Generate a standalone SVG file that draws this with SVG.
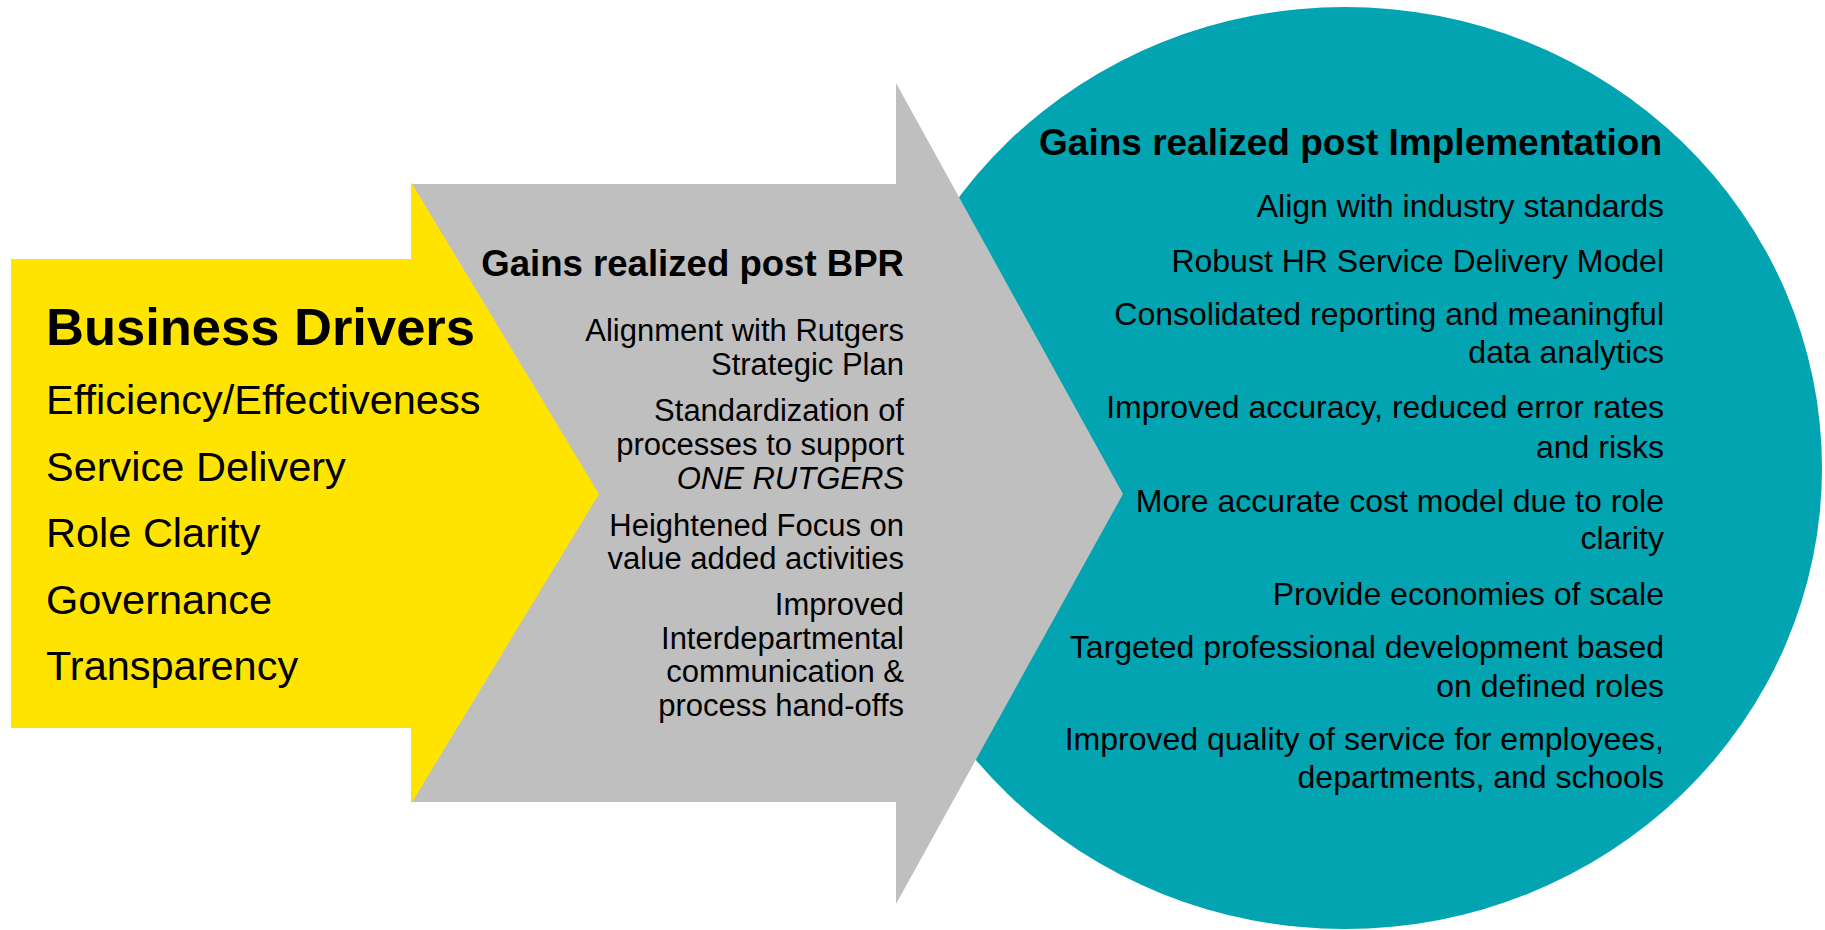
<svg xmlns="http://www.w3.org/2000/svg" width="1825" height="930" viewBox="0 0 1825 930">
<style>
.t{font-family:"Liberation Sans",Arial,sans-serif;fill:#000}
.b{font-weight:bold}
.r{text-anchor:end}
.drv{font-size:41.5px}
.g{font-size:31px}
.c{font-size:32px}
</style>
<rect width="1825" height="930" fill="#fff"/>
<g id="implementation">
<ellipse cx="1345" cy="468" rx="477" ry="461" fill="#01A4B0"/>
<text class="t b r" x="1662" y="155" font-size="37px">Gains realized post Implementation</text>
<g class="t r c">
<text x="1664" y="217">Align with industry standards</text>
<text x="1664" y="272">Robust HR Service Delivery Model</text>
<text x="1664" y="325">Consolidated reporting and meaningful<tspan x="1664" y="363">data analytics</tspan></text>
<text x="1664" y="418">Improved accuracy, reduced error rates<tspan x="1664" y="458">and risks</tspan></text>
<text x="1664" y="512">More accurate cost model due to role<tspan x="1664" y="549">clarity</tspan></text>
<text x="1664" y="605">Provide economies of scale</text>
<text x="1664" y="658">Targeted professional development based<tspan x="1664" y="697">on defined roles</tspan></text>
<text x="1664" y="750">Improved quality of service for employees,<tspan x="1664" y="788">departments, and schools</tspan></text>
</g>
</g>
<g id="bpr">
<polygon points="411,184 896,184 896,83 1123,494 896,904 896,802 411,802" fill="#BFBFBF"/>
<text class="t b r" x="904" y="276" font-size="36.6px">Gains realized post BPR</text>
<g class="t r g">
<text x="904" y="341">Alignment with Rutgers<tspan x="904" y="375">Strategic Plan</tspan></text>
<text x="904" y="421">Standardization of<tspan x="904" y="455">processes to support</tspan><tspan x="904" y="489" font-style="italic">ONE RUTGERS</tspan></text>
<text x="904" y="536">Heightened Focus on<tspan x="904" y="569">value added activities</tspan></text>
<text x="904" y="615">Improved<tspan x="904" y="649">Interdepartmental</tspan><tspan x="904" y="682">communication &amp;</tspan><tspan x="904" y="716">process hand-offs</tspan></text>
</g>
</g>
<g id="drivers">
<polygon points="11,259 411,259 411,182 599,494 411,804 411,728 11,728" fill="#FFE400"/>
<text class="t b" x="46" y="345" font-size="52.5px">Business Drivers</text>
<g class="t drv">
<text x="46" y="414">Efficiency/Effectiveness</text>
<text x="46" y="481">Service Delivery</text>
<text x="46" y="547">Role Clarity</text>
<text x="46" y="614">Governance</text>
<text x="46" y="680">Transparency</text>
</g>
</g>
<g id="connectors"/>
</svg>
